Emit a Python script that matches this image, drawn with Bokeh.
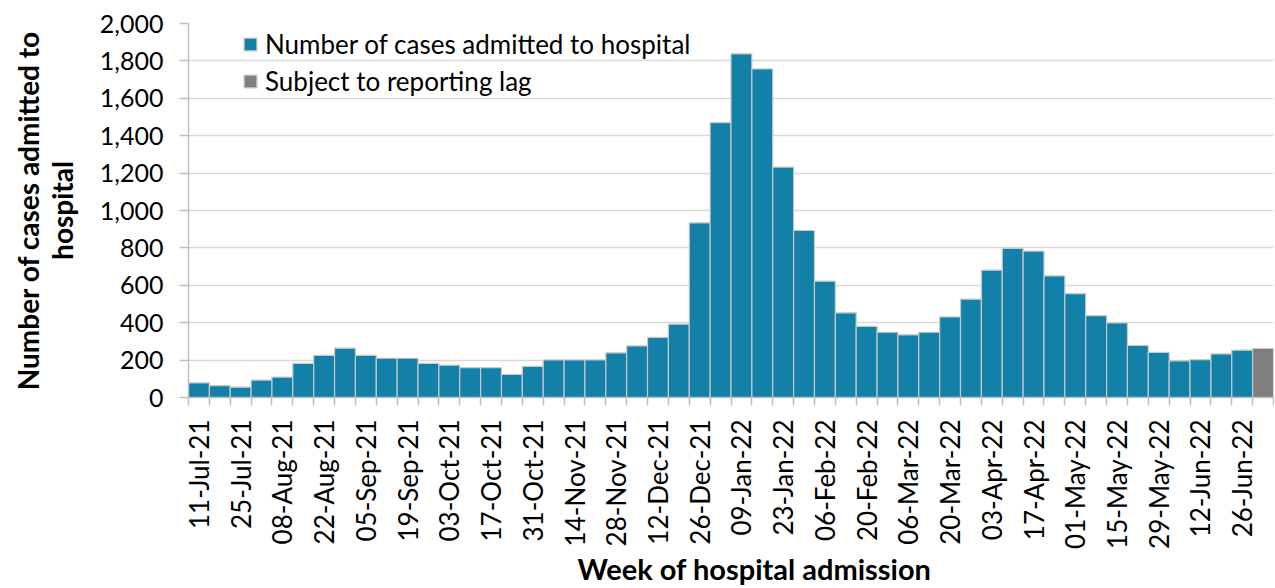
from bokeh.plotting import figure
from bokeh.models import ColumnDataSource, FixedTicker, NumeralTickFormatter, Legend, LegendItem, Range1d, Title
from bokeh.embed import file_html
from bokeh.resources import INLINE
import math

weeks = ["11-Jul-21", "18-Jul-21", "25-Jul-21", "01-Aug-21", "08-Aug-21", "15-Aug-21",
         "22-Aug-21", "29-Aug-21", "05-Sep-21", "12-Sep-21", "19-Sep-21", "26-Sep-21",
         "03-Oct-21", "10-Oct-21", "17-Oct-21", "24-Oct-21", "31-Oct-21", "07-Nov-21",
         "14-Nov-21", "21-Nov-21", "28-Nov-21", "05-Dec-21", "12-Dec-21", "19-Dec-21",
         "26-Dec-21", "02-Jan-22", "09-Jan-22", "16-Jan-22", "23-Jan-22", "30-Jan-22",
         "06-Feb-22", "13-Feb-22", "20-Feb-22", "27-Feb-22", "06-Mar-22", "13-Mar-22",
         "20-Mar-22", "27-Mar-22", "03-Apr-22", "10-Apr-22", "17-Apr-22", "24-Apr-22",
         "01-May-22", "08-May-22", "15-May-22", "22-May-22", "29-May-22", "05-Jun-22",
         "12-Jun-22", "19-Jun-22", "26-Jun-22", "03-Jul-22"]

admitted = [78, 64, 55, 93, 109, 182, 225, 264, 225, 210, 210, 182, 173, 160, 160, 123,
            166, 201, 201, 201, 239, 276, 321, 392, 934, 1470, 1838, 1757, 1232, 893,
            622, 453, 380, 349, 335, 349, 431, 526, 681, 797, 783, 650, 556, 438, 399,
            278, 241, 196, 203, 233, 253]
lagged = [262]

y_ticks = [0, 200, 400, 600, 800, 1000, 1200, 1400, 1600, 1800, 2000]

BLUE = "#1380a8"
GREY = "#7f7f7f"
FONT = "Lato"

n_adm = len(admitted)
n_all = len(weeks)

src_adm = ColumnDataSource(dict(x=list(range(n_adm)), top=admitted, week=weeks[:n_adm]))
src_lag = ColumnDataSource(dict(x=list(range(n_adm, n_all)), top=lagged, week=weeks[n_adm:]))

p = figure(width=1274, height=588, output_backend="svg", toolbar_location=None,
           x_range=Range1d(-0.5, n_all - 0.5), y_range=Range1d(0, 2000),
           min_border_left=188, min_border_right=1, min_border_top=23, min_border_bottom=191)
p.outline_line_color = None
p.background_fill_color = "white"
p.border_fill_color = "white"

r1 = p.vbar(x="x", top="top", width=1.0, source=src_adm, fill_color=BLUE,
            line_color="#c9c9c9", line_width=1.2)
r2 = p.vbar(x="x", top="top", width=1.0, source=src_lag, fill_color=GREY,
            line_color="#c9c9c9", line_width=1.2)

# x axis
xa = p.xaxis[0]
label_pos = list(range(0, n_all - 1, 2))
xa.ticker = FixedTicker(ticks=label_pos, minor_ticks=[i - 0.5 for i in range(n_all + 1)])
xa.major_label_overrides = {i: weeks[i] for i in label_pos}
xa.major_label_orientation = math.pi / 2
xa.major_tick_out = 0
xa.major_tick_in = 0
xa.minor_tick_out = 8
xa.minor_tick_in = 0
xa.minor_tick_line_color = "#bfbfbf"
xa.minor_tick_line_width = 1.5
xa.axis_line_color = "#bfbfbf"
xa.axis_line_width = 1.5
xa.major_label_text_font = FONT
xa.major_label_text_font_size = "26px"
xa.major_label_text_color = "#000000"
xa.major_label_standoff = 14

x_title = Title(text="Week of hospital admission", align="left", offset=389, standoff=-6,
                text_font=FONT, text_font_size="29px", text_font_style="bold",
                text_color="#000000")
p.add_layout(x_title, "below")

# y axis
ya = p.yaxis[0]
ya.ticker = FixedTicker(ticks=y_ticks, minor_ticks=[])
ya.formatter = NumeralTickFormatter(format="0,0")
ya.major_tick_out = 9
ya.major_tick_in = 0
ya.major_tick_line_color = "#bfbfbf"
ya.major_tick_line_width = 1.5
ya.minor_tick_line_color = None
ya.axis_line_color = "#bfbfbf"
ya.axis_line_width = 1.5
ya.major_label_text_font = FONT
ya.major_label_text_font_size = "25px"
ya.major_label_text_color = "#000000"
ya.major_label_standoff = 16
ya.axis_label = "Number of cases admitted to\nhospital"
ya.axis_label_text_font = FONT
ya.axis_label_text_font_style = "bold"
ya.axis_label_text_font_size = "28px"
ya.axis_label_text_line_height = 1.0
ya.axis_label_text_color = "#000000"
ya.axis_label_standoff = 18

p.xgrid.grid_line_color = None
p.ygrid.ticker = FixedTicker(ticks=y_ticks)
p.ygrid.grid_line_color = "#d9d9d9"
p.ygrid.grid_line_width = 1.5

legend = Legend(items=[LegendItem(label="Number of cases admitted to hospital", renderers=[r1]),
                       LegendItem(label="Subject to reporting lag", renderers=[r2])],
                location=(54, 300), orientation="vertical")
legend.background_fill_alpha = 0
legend.border_line_color = None
legend.padding = 0
legend.margin = 0
legend.spacing = 5
legend.glyph_width = 16
legend.glyph_height = 16
legend.label_standoff = 7
legend.label_text_font = FONT
legend.label_text_font_size = "26px"
legend.label_text_color = "#000000"
p.add_layout(legend)

open("out.html", "w").write(file_html(p, INLINE))
